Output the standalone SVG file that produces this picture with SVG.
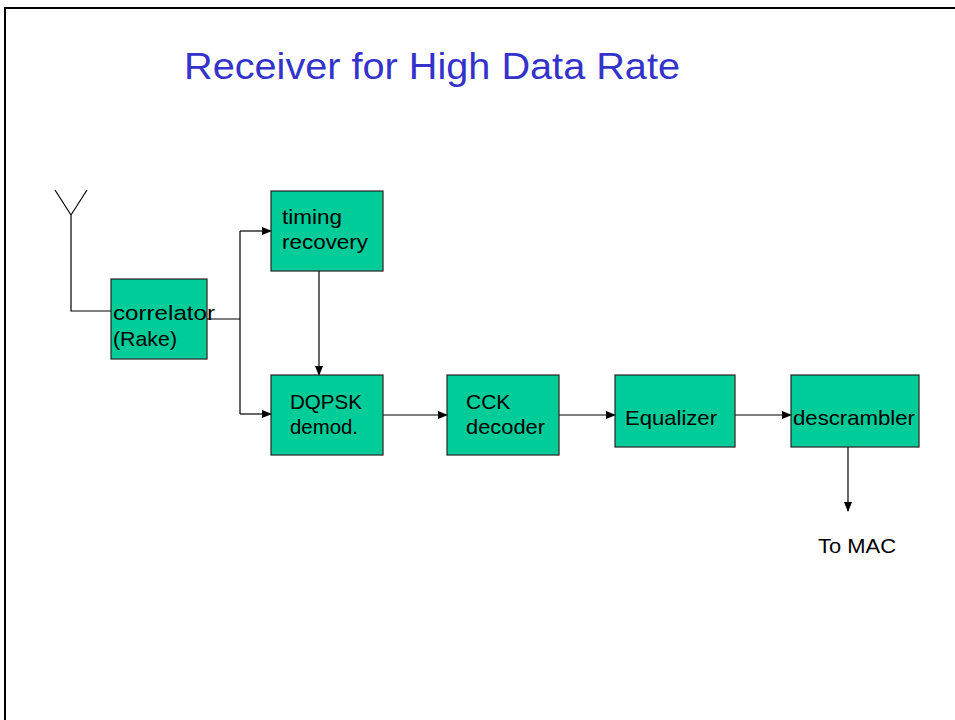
<svg xmlns="http://www.w3.org/2000/svg" width="955" height="720" viewBox="0 0 955 720">
<defs>
<marker id="ah" markerWidth="10" markerHeight="8" refX="9" refY="4" orient="auto" markerUnits="userSpaceOnUse">
<path d="M0,0 L10,4 L0,8 z" fill="#000"/>
</marker>
</defs>
<style>
.box{fill:#00CC99;stroke:#222;stroke-width:1.2}
.lbl{font-family:"Liberation Sans",Arial,sans-serif;font-size:21px;fill:#000}
.ln{fill:none;stroke:#000;stroke-width:1.2}
.arr{fill:none;stroke:#000;stroke-width:1.2;marker-end:url(#ah)}
</style>
<rect x="0" y="0" width="955" height="720" fill="#fff"/>
<path d="M5,720 L5,8 L955,8" fill="none" stroke="#000" stroke-width="2"/>
<text x="184" y="79" font-family="Liberation Sans,Arial,sans-serif" font-size="36" fill="#3333CC" textLength="496" lengthAdjust="spacingAndGlyphs">Receiver for High Data Rate</text>
<g id="antenna">
<path class="ln" d="M55,190 L71,215 L87,190 M71,215 L71,311 L111,311"/>
</g>
<g id="connectors">
<path class="ln" d="M207,319 L240,319 M240,231 L240,414"/>
<path class="arr" d="M240,231 L271,231"/>
<path class="arr" d="M240,414 L271,414"/>
<path class="arr" d="M319,271 L319,375"/>
<path class="arr" d="M383,415 L447,415"/>
<path class="arr" d="M559,415 L615,415"/>
<path class="arr" d="M735,415 L791,415"/>
<path class="arr" d="M848,447 L848,511"/>
</g>
<g id="correlator">
<rect class="box" x="111" y="279" width="96" height="80"/>
<text class="lbl" x="113" y="320" textLength="102" lengthAdjust="spacingAndGlyphs">correlator</text>
<text class="lbl" x="113" y="346" textLength="64" lengthAdjust="spacingAndGlyphs">(Rake)</text>
</g>
<g id="timing">
<rect class="box" x="271" y="191" width="112" height="80"/>
<text class="lbl" x="282" y="224" textLength="60" lengthAdjust="spacingAndGlyphs">timing</text>
<text class="lbl" x="282" y="249" textLength="86" lengthAdjust="spacingAndGlyphs">recovery</text>
</g>
<g id="dqpsk">
<rect class="box" x="271" y="375" width="112" height="80"/>
<text class="lbl" x="290" y="409" textLength="72" lengthAdjust="spacingAndGlyphs">DQPSK</text>
<text class="lbl" x="290" y="434" textLength="68" lengthAdjust="spacingAndGlyphs">demod.</text>
</g>
<g id="cck">
<rect class="box" x="447" y="375" width="112" height="80"/>
<text class="lbl" x="466" y="409">CCK</text>
<text class="lbl" x="466" y="434" textLength="79" lengthAdjust="spacingAndGlyphs">decoder</text>
</g>
<g id="equalizer">
<rect class="box" x="615" y="375" width="120" height="72"/>
<text class="lbl" x="625" y="425" textLength="92" lengthAdjust="spacingAndGlyphs">Equalizer</text>
</g>
<g id="descrambler">
<rect class="box" x="791" y="375" width="128" height="72"/>
<text class="lbl" x="793" y="425" textLength="122" lengthAdjust="spacingAndGlyphs">descrambler</text>
</g>
<g id="tomac">
<text class="lbl" x="818" y="553" textLength="78" lengthAdjust="spacingAndGlyphs">To MAC</text>
</g>
</svg>
